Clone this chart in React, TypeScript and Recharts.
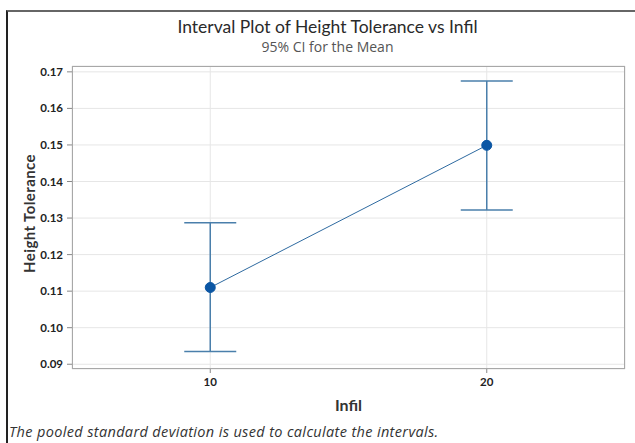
import React from "react";
import {
  ComposedChart,
  Line,
  ErrorBar,
  XAxis,
  YAxis,
  CartesianGrid,
  Label,
} from "recharts";

const infil = [10, 20];
const means = [0.111, 0.1499];
const lowers = [0.0935, 0.1322];
const uppers = [0.1287, 0.1675];
const yTicks = [0.09, 0.1, 0.11, 0.12, 0.13, 0.14, 0.15, 0.16, 0.17];
const xTicks = [10, 20];

const data = infil.map((x, i) => ({
  infil: x,
  mean: means[i],
  err: [means[i] - lowers[i], uppers[i] - means[i]],
}));

const FONT = "Lato, 'Noto Sans', sans-serif";
const OPEN = "'Open Sans', 'Noto Sans', sans-serif";
const tickStyle = { fontSize: 11.5, fill: "#222", fontWeight: 700, fontFamily: FONT };

const YTitle = (props: any) => {
  const vb = props.viewBox || { y: 66, height: 303 };
  const cx = 29;
  const cy = vb.y + vb.height / 2 - 4;
  return (
    <text
      x={cx}
      y={cy}
      transform={`rotate(-90, ${cx}, ${cy})`}
      textAnchor="middle"
      dominantBaseline="central"
      fontFamily={FONT}
      fontSize={15}
      fontWeight={700}
      letterSpacing={0.4}
      fill="#333"
    >
      Height Tolerance
    </text>
  );
};

export default function App() {
  return (
    <div
      style={{
        position: "absolute",
        left: 0,
        top: 0,
        width: 635,
        height: 443,
        background: "#fff",
        fontFamily: FONT,
        overflow: "hidden",
      }}
    >
      {/* outer frame, only left and top edges show */}
      <div
        style={{
          position: "absolute",
          left: 6,
          top: 10,
          width: 640,
          height: 440,
          borderLeft: "2px solid #222",
          borderTop: "2px solid #666",
        }}
      />
      <div
        style={{
          position: "absolute",
          left: 0,
          width: 655,
          top: 16,
          textAlign: "center",
          fontSize: 17.5,
          color: "#2a2a2a",
        }}
      >
        Interval Plot of Height Tolerance vs Infil
      </div>
      <div
        style={{
          position: "absolute",
          left: 0,
          width: 655,
          top: 37,
          textAlign: "center",
          fontSize: 14,
          fontFamily: OPEN,
          color: "#555",
        }}
      >
        95% CI for the Mean
      </div>
      <ComposedChart
        width={635}
        height={443}
        data={data}
        margin={{ top: 66, right: 10, bottom: 0, left: 0 }}
      >
        <CartesianGrid stroke="#e6e6e6" horizontal vertical />
        <XAxis
          dataKey="infil"
          type="number"
          domain={[5, 25]}
          ticks={xTicks}
          allowDataOverflow
          height={74}
          tick={tickStyle}
          tickSize={4}
          tickMargin={5}
          axisLine={false}
          tickLine={{ stroke: "#888" }}
        />
        <YAxis
          type="number"
          domain={[0.0887, 0.1716]}
          ticks={yTicks}
          allowDataOverflow
          width={72}
          tick={tickStyle}
          tickSize={5}
          tickMargin={4}
          axisLine={false}
          tickLine={{ stroke: "#888" }}
          tickFormatter={(v: number) => v.toFixed(2)}
        >
          <Label content={YTitle} />
        </YAxis>
        <Line
          type="linear"
          dataKey="mean"
          stroke="#2e6aa0"
          strokeWidth={1}
          dot={{ r: 5, fill: "#0b56a4", stroke: "#0b56a4", strokeWidth: 1 }}
          isAnimationActive={false}
        >
          <ErrorBar
            dataKey="err"
            direction="y"
            width={26}
            stroke="#4a7fab"
            strokeWidth={1.5}
          />
        </Line>
      </ComposedChart>
      {/* plot frame */}
      <div
        style={{
          position: "absolute",
          left: 72,
          top: 66,
          width: 553,
          height: 303,
          border: "1px solid #a8a8a8",
          boxSizing: "border-box",
          pointerEvents: "none",
        }}
      />
      <div
        style={{
          position: "absolute",
          left: 72,
          width: 553,
          top: 395,
          textAlign: "center",
          fontSize: 16,
          fontWeight: 700,
          color: "#333",
        }}
      >
        Infil
      </div>
      <div
        style={{
          position: "absolute",
          left: 9,
          top: 422,
          fontSize: 14.5,
          letterSpacing: 0.35,
          fontFamily: OPEN,
          fontStyle: "italic",
          color: "#333",
          whiteSpace: "nowrap",
        }}
      >
        The pooled standard deviation is used to calculate the intervals.
      </div>
    </div>
  );
}
